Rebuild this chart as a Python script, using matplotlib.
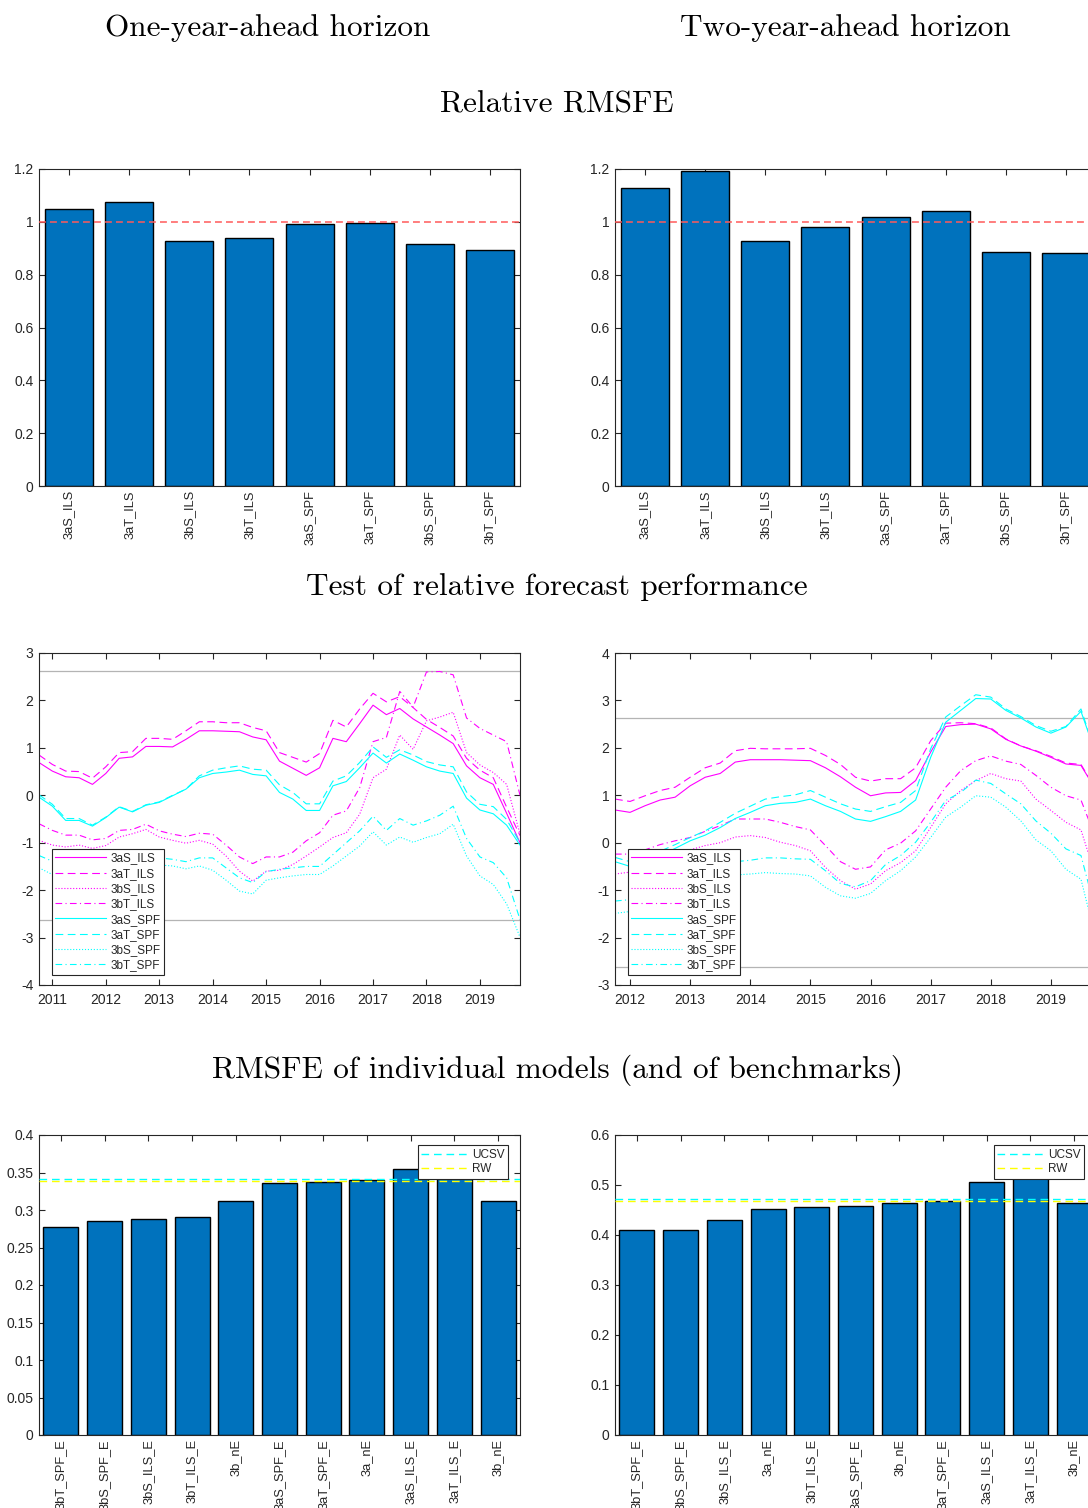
#!/usr/bin/env python3

import matplotlib

matplotlib.use("Agg")
import matplotlib.pyplot as plt
import numpy as np
from matplotlib.ticker import FormatStrFormatter, MultipleLocator

W, H = 1088, 1508
BAR_BLUE = "#0072BD"
DARK = "#262626"
MAGENTA = "#FF00FF"
CYAN = "#00FFFF"

# --- Relative RMSFE (top row) ---
rel_labels = ["3aS_ILS", "3aT_ILS", "3bS_ILS", "3bT_ILS",
              "3aS_SPF", "3aT_SPF", "3bS_SPF", "3bT_SPF"]
rel_rmsfe_1y = [1.047, 1.074, 0.928, 0.937, 0.990, 0.994, 0.917, 0.894]
rel_rmsfe_2y = [1.127, 1.192, 0.928, 0.982, 1.019, 1.040, 0.884, 0.882]

# --- Test of relative forecast performance (middle row) ---
series_names = ["3aS_ILS", "3aT_ILS", "3bS_ILS", "3bT_ILS",
                "3aS_SPF", "3aT_SPF", "3bS_SPF", "3bT_SPF"]
critical_value = 2.62

dates_1y = np.arange(2010.75, 2019.76, 0.25)
aS_ILS_1 = [0.69, 0.51, 0.39, 0.37, 0.23, 0.46, 0.78, 0.81, 1.03, 1.03, 1.02, 1.18, 1.36,
            1.36, 1.35, 1.34, 1.23, 1.17, 0.72, 0.57, 0.42, 0.58, 1.20, 1.13, 1.51, 1.90,
            1.70, 1.83, 1.61, 1.44, 1.27, 1.09, 0.62, 0.37, 0.23, -0.38, -1.00]
aT_ILS_1 = [0.85, 0.65, 0.51, 0.50, 0.36, 0.60, 0.90, 0.92, 1.20, 1.20, 1.18, 1.36, 1.55,
            1.55, 1.53, 1.53, 1.43, 1.36, 0.90, 0.80, 0.70, 0.88, 1.58, 1.44, 1.82, 2.15,
            1.97, 2.08, 1.85, 1.60, 1.43, 1.25, 0.78, 0.53, 0.37, -0.25, -0.85]
bS_ILS_1 = [-0.95, -1.05, -1.09, -1.05, -1.12, -1.06, -0.88, -0.81, -0.72, -0.88, -0.95,
            -1.01, -0.95, -1.03, -1.28, -1.60, -1.81, -1.60, -1.58, -1.46, -1.28, -1.09,
            -0.89, -0.79, -0.40, 0.37, 0.55, 1.27, 0.97, 1.57, 1.65, 1.75, 0.90, 0.64,
            0.48, 0.23, -0.82]
bT_ILS_1 = [-0.60, -0.74, -0.84, -0.84, -0.94, -0.91, -0.74, -0.72, -0.61, -0.75, -0.82,
            -0.87, -0.80, -0.82, -1.05, -1.30, -1.44, -1.30, -1.30, -1.20, -0.96, -0.79,
            -0.42, -0.33, 0.16, 1.13, 1.22, 2.19, 1.86, 2.60, 2.61, 2.54, 1.63, 1.41,
            1.27, 1.13, 0.00]
aS_SPF_1 = [-0.04, -0.23, -0.53, -0.53, -0.65, -0.47, -0.25, -0.35, -0.21, -0.15, -0.01,
            0.13, 0.37, 0.46, 0.49, 0.53, 0.44, 0.41, 0.06, -0.08, -0.32, -0.32, 0.20,
            0.29, 0.58, 0.89, 0.68, 0.87, 0.74, 0.60, 0.51, 0.46, -0.06, -0.31, -0.39,
            -0.63, -1.05]
aT_SPF_1 = [0.01, -0.19, -0.49, -0.49, -0.63, -0.46, -0.24, -0.34, -0.20, -0.14, 0.00,
            0.13, 0.41, 0.53, 0.58, 0.62, 0.55, 0.53, 0.22, 0.06, -0.18, -0.18, 0.30,
            0.41, 0.69, 1.02, 0.80, 0.96, 0.85, 0.71, 0.64, 0.60, 0.07, -0.19, -0.24,
            -0.51, -1.00]
bS_SPF_1 = [-1.53, -1.67, -1.60, -1.58, -1.62, -1.60, -1.50, -1.48, -1.43, -1.47, -1.49,
            -1.55, -1.49, -1.58, -1.79, -2.02, -2.08, -1.79, -1.74, -1.70, -1.67, -1.67,
            -1.49, -1.28, -1.07, -0.77, -1.05, -0.88, -0.99, -0.89, -0.81, -0.61, -1.28,
            -1.70, -1.88, -2.29, -2.99]
bT_SPF_1 = [-1.27, -1.39, -1.45, -1.44, -1.48, -1.46, -1.36, -1.35, -1.28, -1.32, -1.35,
            -1.40, -1.32, -1.32, -1.53, -1.74, -1.84, -1.61, -1.56, -1.53, -1.50, -1.50,
            -1.25, -1.00, -0.75, -0.44, -0.74, -0.49, -0.63, -0.54, -0.42, -0.23, -0.91,
            -1.30, -1.42, -1.74, -2.62]

dates_2y = np.arange(2011.75, 2019.76, 0.25)
aS_ILS_2 = [0.69, 0.64, 0.78, 0.90, 0.96, 1.20, 1.38, 1.46, 1.70, 1.75, 1.75, 1.75, 1.74,
            1.73, 1.58, 1.39, 1.17, 0.99, 1.05, 1.06, 1.31, 1.91, 2.45, 2.49, 2.50, 2.40,
            2.18, 2.04, 1.93, 1.80, 1.66, 1.63, 1.11]
aT_ILS_2 = [0.92, 0.87, 0.99, 1.10, 1.17, 1.38, 1.58, 1.68, 1.94, 1.99, 1.98, 1.98, 1.98,
            1.99, 1.84, 1.65, 1.38, 1.30, 1.35, 1.35, 1.58, 2.15, 2.52, 2.53, 2.51, 2.42,
            2.19, 2.04, 1.94, 1.82, 1.68, 1.65, 1.12]
bS_ILS_2 = [-0.66, -0.62, -0.50, -0.38, -0.25, -0.15, -0.06, 0.00, 0.12, 0.15, 0.11, 0.01,
            -0.06, -0.17, -0.52, -0.80, -0.98, -0.87, -0.59, -0.42, -0.17, 0.32, 0.82,
            1.10, 1.31, 1.46, 1.35, 1.30, 0.92, 0.68, 0.43, 0.27, -0.73]
bT_ILS_2 = [-0.24, -0.24, -0.15, -0.04, 0.04, 0.11, 0.24, 0.36, 0.50, 0.50, 0.50, 0.43,
            0.34, 0.27, -0.06, -0.40, -0.56, -0.51, -0.15, -0.01, 0.25, 0.71, 1.17, 1.52,
            1.73, 1.83, 1.72, 1.65, 1.42, 1.17, 0.99, 0.90, 0.08]
aS_SPF_2 = [-0.40, -0.50, -0.40, -0.28, -0.12, 0.04, 0.16, 0.32, 0.51, 0.64, 0.78, 0.83,
            0.85, 0.92, 0.78, 0.66, 0.50, 0.45, 0.55, 0.66, 0.90, 1.80, 2.54, 2.79, 3.04,
            3.03, 2.79, 2.63, 2.44, 2.31, 2.44, 2.77, 1.86]
aT_SPF_2 = [-0.31, -0.40, -0.30, -0.18, -0.04, 0.11, 0.25, 0.43, 0.62, 0.77, 0.92, 0.97,
            1.01, 1.10, 0.96, 0.82, 0.71, 0.66, 0.76, 0.85, 1.10, 1.98, 2.65, 2.89, 3.12,
            3.07, 2.82, 2.66, 2.47, 2.35, 2.45, 2.82, 1.87]
bS_SPF_2 = [-1.49, -1.45, -1.30, -1.15, -1.00, -0.90, -0.80, -0.72, -0.68, -0.66, -0.63,
            -0.65, -0.66, -0.70, -0.94, -1.12, -1.17, -1.07, -0.80, -0.59, -0.30, 0.11,
            0.54, 0.75, 0.99, 0.96, 0.75, 0.46, 0.06, -0.17, -0.56, -0.77, -2.04]
bT_SPF_2 = [-1.23, -1.20, -1.00, -0.85, -0.70, -0.60, -0.50, -0.45, -0.40, -0.37, -0.32,
            -0.32, -0.34, -0.35, -0.59, -0.86, -0.93, -0.80, -0.46, -0.27, 0.01, 0.43,
            0.89, 1.06, 1.32, 1.25, 1.03, 0.82, 0.46, 0.20, -0.13, -0.27, -1.47]

# --- RMSFE of individual models (bottom row) ---
ind_labels_1y = ["3bT_SPF_E", "3bS_SPF_E", "3bS_ILS_E", "3bT_ILS_E", "3b_nE", "3aS_SPF_E",
                 "3aT_SPF_E", "3a_nE", "3aS_ILS_E", "3aT_ILS_E", "3b_nE"]
ind_rmsfe_1y = [0.2775, 0.285, 0.288, 0.291, 0.312, 0.3355, 0.3368, 0.3403, 0.355, 0.346,
                0.312]
ucsv_1y, rw_1y = 0.3415, 0.3393

ind_labels_2y = ["3bT_SPF_E", "3bS_SPF_E", "3bS_ILS_E", "3a_nE", "3bT_ILS_E", "3aS_SPF_E",
                 "3b_nE", "3aT_SPF_E", "3aS_ILS_E", "3aT_ILS_E", "3b_nE"]
ind_rmsfe_2y = [0.4096, 0.410, 0.4296, 0.4517, 0.4557, 0.459, 0.465, 0.469, 0.507, 0.520,
                0.465]
ucsv_2y, rw_2y = 0.4717, 0.469

LINE_STYLES = ["-", (0, (7, 4)), ":", (0, (6, 3, 1, 3))]


def add_axes_px(fig, left, top, width, height):
    return fig.add_axes([left / W, 1 - (top + height) / H, width / W, height / H])


def style_axes(ax):
    for spine in ax.spines.values():
        spine.set_color(DARK)
        spine.set_linewidth(0.8)
    ax.tick_params(direction="in", top=True, right=True, length=4.5, width=0.8,
                   color=DARK, labelcolor=DARK, labelsize=10, pad=4)


def style_legend(leg):
    leg.get_frame().set_edgecolor(DARK)
    leg.get_frame().set_linewidth(0.8)
    for text in leg.get_texts():
        text.set_color(DARK)


def bar_panel(ax, labels, values, ymax, ystep):
    x = np.arange(1, len(values) + 1)
    ax.bar(x, values, width=0.8, color=BAR_BLUE, edgecolor="black", linewidth=1.0,
           zorder=2)
    ax.set_xlim(0.5, len(values) + 0.5)
    ax.set_ylim(0, ymax)
    ax.set_xticks(x)
    ax.set_xticklabels(labels, rotation=90)
    ax.yaxis.set_major_locator(MultipleLocator(ystep))
    ax.yaxis.set_major_formatter(FormatStrFormatter("%g"))
    style_axes(ax)
    ax.tick_params(axis="x", labelsize=9.3, pad=3)


def line_panel(ax, dates, series, years):
    ax.axhline(critical_value, color="#b4b4b4", linewidth=0.9, zorder=1)
    ax.axhline(-critical_value, color="#b4b4b4", linewidth=0.9, zorder=1)
    colors = [MAGENTA] * 4 + [CYAN] * 4
    for i, (name, values) in enumerate(zip(series_names, series)):
        ax.plot(dates, values, color=colors[i], linestyle=LINE_STYLES[i % 4],
                linewidth=0.8, label=name, zorder=2)
    ax.set_xlim(dates[0], dates[-1])
    ax.set_xticks(years)
    ax.xaxis.set_major_formatter(FormatStrFormatter("%d"))
    ax.yaxis.set_major_locator(MultipleLocator(1))
    ax.yaxis.set_major_formatter(FormatStrFormatter("%g"))
    style_axes(ax)
    ax.tick_params(axis="x", pad=6)
    leg = ax.legend(loc="lower left", bbox_to_anchor=(0.026, 0.03), borderaxespad=0,
                    fontsize=8.5, handlelength=4.3, handletextpad=0.4,
                    labelspacing=0.28, borderpad=0.3, fancybox=False, framealpha=1)
    style_legend(leg)


def benchmark_lines(ax, ucsv, rw):
    ax.axhline(ucsv, color=CYAN, linestyle=(0, (5.5, 3.5)), linewidth=1.0, zorder=3,
               label="UCSV")
    ax.axhline(rw, color="#FFFF00", linestyle=(0, (5.5, 3.5)), linewidth=1.0, zorder=3,
               label="RW")
    leg = ax.legend(loc="upper right", bbox_to_anchor=(0.975, 0.966), borderaxespad=0,
                    fontsize=8.5, handlelength=3.9, handletextpad=0.4,
                    labelspacing=0.2, borderpad=0.3, fancybox=False, framealpha=1)
    style_legend(leg)


def main():
    plt.rcParams["font.family"] = ["Liberation Sans", "DejaVu Sans"]
    fig = plt.figure(figsize=(W / 100, H / 100), dpi=100)

    title_kw = dict(ha="center", va="center", fontfamily="cmr10", fontsize=22.5)
    fig.text(268 / W, 1 - 28 / H, "One-year-ahead horizon", **title_kw)
    fig.text(845 / W, 1 - 28 / H, "Two-year-ahead horizon", **title_kw)
    fig.text(557 / W, 1 - 105 / H, "Relative RMSFE", **title_kw)
    fig.text(557 / W, 1 - 587 / H, "Test of relative forecast performance", **title_kw)
    fig.text(557 / W, 1 - 1070 / H, "RMSFE of individual models (and of benchmarks)",
             **title_kw)

    left_x, right_x, width = 39, 615, 481

    # top row
    for x0, values in ((left_x, rel_rmsfe_1y), (right_x, rel_rmsfe_2y)):
        ax = add_axes_px(fig, x0, 169, width, 317)
        bar_panel(ax, rel_labels, values, 1.2, 0.2)
        ax.axhline(1, color="#ff5a5a", linestyle=(0, (4.5, 2.7)), linewidth=1.1, zorder=3)

    # middle row
    ax = add_axes_px(fig, left_x, 653, width, 332)
    line_panel(ax, dates_1y, [aS_ILS_1, aT_ILS_1, bS_ILS_1, bT_ILS_1,
                              aS_SPF_1, aT_SPF_1, bS_SPF_1, bT_SPF_1],
               range(2011, 2020))
    ax.set_ylim(-4, 3)

    ax = add_axes_px(fig, right_x, 653, width, 332)
    line_panel(ax, dates_2y, [aS_ILS_2, aT_ILS_2, bS_ILS_2, bT_ILS_2,
                              aS_SPF_2, aT_SPF_2, bS_SPF_2, bT_SPF_2],
               range(2012, 2020))
    ax.set_ylim(-3, 4)

    # bottom row
    ax = add_axes_px(fig, left_x, 1135, width, 300)
    bar_panel(ax, ind_labels_1y, ind_rmsfe_1y, 0.4, 0.05)
    benchmark_lines(ax, ucsv_1y, rw_1y)

    ax = add_axes_px(fig, right_x, 1135, width, 300)
    bar_panel(ax, ind_labels_2y, ind_rmsfe_2y, 0.6, 0.1)
    benchmark_lines(ax, ucsv_2y, rw_2y)

    fig.savefig("out.png", dpi=100)


if __name__ == "__main__":
    main()
